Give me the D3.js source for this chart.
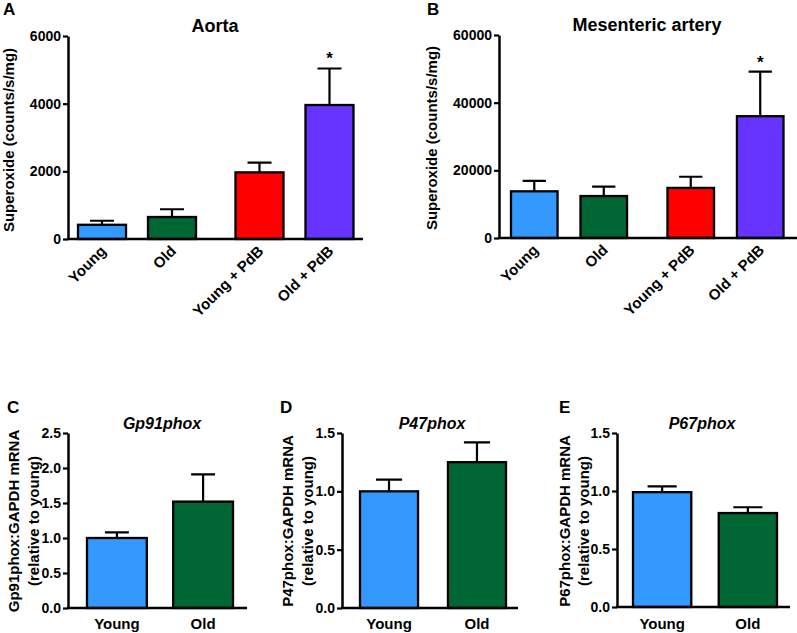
<!DOCTYPE html>
<html>
<head>
<meta charset="utf-8">
<script src="https://cdn.jsdelivr.net/npm/d3@7"></script>
<style>
  body { margin: 0; background: #fff; }
  svg text { font-family: "Liberation Sans", Arial, sans-serif; font-weight: bold; fill: #000; }
</style>
</head>
<body>
<div class="chart"></div>
<script>
// categories
var topCats = ["Young", "Old", "Young + PdB", "Old + PdB"];
var topPdB = [0, 0, 1, 1];          // 1 = PdB treated group
var topSig = [false, false, false, true];
var mrnaCats = ["Young", "Old"];

// superoxide, mean and SEM
var aortaMean = [420, 650, 1970, 3960];
var aortaSem = [120, 230, 290, 1080];
var mesMean = [13800, 12400, 14800, 36000];
var mesSem = [3100, 2800, 3300, 13200];

// mRNA relative to young
var gp91Mean = [1.0, 1.52];
var gp91Sem = [0.08, 0.39];
var p47Mean = [1.0, 1.25];
var p47Sem = [0.1, 0.17];
var p67Mean = [0.99, 0.81];
var p67Sem = [0.05, 0.05];

// tick labels
var aortaTicks = [0, 2000, 4000, 6000];
var mesTicks = [0, 20000, 40000, 60000];
var gp91Ticks = [0, 0.5, 1.0, 1.5, 2.0, 2.5];
var p4767Ticks = [0, 0.5, 1.0, 1.5];

var colors = ["#3399ff", "#006633", "#ff0000", "#6633ff"];

var svg = d3.select(".chart").append("svg")
    .attr("width", 797).attr("height", 633);

function drawPanel(p) {
  var g = svg.append("g");

  var y = d3.scaleLinear().domain([0, p.ticks[p.ticks.length - 1]]).range([p.y0, p.y1]);
  var x = d3.scaleBand().domain(p.cats).range([p.bx0, p.bx1]).paddingInner(p.pad);

  function bx(d, i) { return x(d) + (p.group ? p.group[i] * p.gap : 0); }

  // bars
  g.selectAll("rect.bar").data(p.cats).enter().append("rect")
      .attr("x", bx)
      .attr("y", function(d, i) { return y(p.mean[i]); })
      .attr("width", x.bandwidth())
      .attr("height", function(d, i) { return y(0) - y(p.mean[i]); })
      .attr("fill", function(d, i) { return colors[i]; })
      .attr("stroke", "#000").attr("stroke-width", 2.3);

  // error bars (upper only)
  var cap = x.bandwidth() * p.cap;
  g.selectAll("path.err").data(p.cats).enter().append("path")
      .attr("d", function(d, i) {
        var cx = bx(d, i) + x.bandwidth() / 2;
        var top = y(p.mean[i] + p.sem[i]);
        return "M" + cx + "," + y(p.mean[i]) + "V" + top +
               "M" + (cx - cap / 2) + "," + top + "H" + (cx + cap / 2);
      })
      .attr("stroke", "#000").attr("stroke-width", 2.2).attr("fill", "none");

  // asterisks
  if (p.sig) {
    g.selectAll("text.sig").data(p.cats).enter()
      .filter(function(d, i) { return p.sig[i]; })
      .append("text")
        .attr("x", function(d) { var i = p.cats.indexOf(d); return bx(d, i) + x.bandwidth() / 2; })
        .attr("y", function(d) { var i = p.cats.indexOf(d); return y(p.mean[i] + p.sem[i]) - 4; })
        .attr("text-anchor", "middle").style("font-size", "17px")
        .text("*");
  }

  // y axis
  var ya = g.append("g").attr("transform", "translate(" + p.ax + ",0)")
      .call(d3.axisLeft(y).tickValues(p.ticks).tickFormat(p.fmt).tickSize(5).tickSizeOuter(0).tickPadding(2));
  ya.select(".domain").attr("stroke-width", 2.5);
  ya.selectAll(".tick line").attr("stroke-width", 2.2);
  ya.selectAll(".tick text").style("font-size", p.tickSize + "px").attr("font-family", null);

  // x axis line
  g.append("line")
      .attr("x1", p.ax - 1).attr("x2", p.axEnd)
      .attr("y1", y(0)).attr("y2", y(0))
      .attr("stroke", "#000").attr("stroke-width", 2.7);

  // x labels
  g.selectAll("text.xl").data(p.cats).enter().append("text")
      .attr("transform", function(d, i) {
        var cx = bx(d, i) + x.bandwidth() / 2;
        return p.rotate
          ? "translate(" + (cx + 5) + "," + (y(0) + 13) + ") rotate(-45)"
          : "translate(" + cx + "," + p.xlY + ")";
      })
      .attr("text-anchor", p.rotate ? "end" : "middle")
      .style("font-size", p.xlSize + "px")
      .text(function(d) { return d; });

  // title
  g.append("text").attr("x", p.tx).attr("y", p.ty)
      .attr("text-anchor", "middle")
      .style("font-size", p.titleSize + "px")
      .style("font-style", p.italic ? "italic" : null)
      .text(p.title);

  // panel letter
  g.append("text").attr("x", p.lx).attr("y", p.ly)
      .style("font-size", "17px").text(p.letter);

  // y label lines
  p.ylab.forEach(function(t, k) {
    g.append("text")
        .attr("transform", "translate(" + p.ylx[k] + "," + p.yly + ") rotate(-90)")
        .attr("text-anchor", "middle").attr("dy", "0.35em")
        .style("font-size", p.ylSize + "px")
        .text(t);
  });
}

var fmtInt = d3.format("d"), fmt1 = d3.format(".1f");

drawPanel({ cats: topCats, group: topPdB, gap: 17.5, sig: topSig, mean: aortaMean, sem: aortaSem,
  ticks: aortaTicks, fmt: fmtInt, y0: 239, y1: 36, ax: 68, axEnd: 363, bx0: 78, bx1: 336, pad: 0.314, cap: 0.5,
  tickSize: 14, rotate: true, xlSize: 15, title: "Aorta", tx: 215, ty: 32, titleSize: 18,
  letter: "A", lx: 3, ly: 15, ylab: ["Superoxide (counts/s/mg)"], ylx: [9], yly: 140, ylSize: 15 });

drawPanel({ cats: topCats, group: topPdB, gap: 17.5, sig: topSig, mean: mesMean, sem: mesSem,
  ticks: mesTicks, fmt: fmtInt, y0: 238, y1: 35, ax: 499, axEnd: 797, bx0: 511, bx1: 766, pad: 0.33, cap: 0.5,
  tickSize: 14, rotate: true, xlSize: 15, title: "Mesenteric artery", tx: 647, ty: 31, titleSize: 18,
  letter: "B", lx: 427, ly: 15, ylab: ["Superoxide (counts/s/mg)"], ylx: [432], yly: 138, ylSize: 15 });

drawPanel({ cats: mrnaCats, mean: gp91Mean, sem: gp91Sem,
  ticks: gp91Ticks, fmt: fmt1, y0: 608, y1: 433, ax: 68, axEnd: 247, bx0: 87, bx1: 233, pad: 0.306, cap: 0.4,
  tickSize: 14, rotate: false, xlSize: 15, xlY: 629, title: "Gp91phox", italic: true, tx: 162, ty: 429, titleSize: 16,
  letter: "C", lx: 7, ly: 413, ylab: ["Gp91phox:GAPDH mRNA", "(relative to young)"], ylx: [14, 34], yly: 521, ylSize: 15 });

drawPanel({ cats: mrnaCats, mean: p47Mean, sem: p47Sem,
  ticks: p4767Ticks, fmt: fmt1, y0: 608, y1: 433, ax: 342, axEnd: 518, bx0: 360, bx1: 506, pad: 0.34, cap: 0.45,
  tickSize: 14, rotate: false, xlSize: 15, xlY: 629, title: "P47phox", italic: true, tx: 432, ty: 429, titleSize: 16,
  letter: "D", lx: 280, ly: 413, ylab: ["P47phox:GAPDH mRNA", "(relative to young)"], ylx: [288, 308], yly: 521, ylSize: 15 });

drawPanel({ cats: mrnaCats, mean: p67Mean, sem: p67Sem,
  ticks: p4767Ticks, fmt: fmt1, y0: 607, y1: 433, ax: 617, axEnd: 790, bx0: 633, bx1: 777, pad: 0.32, cap: 0.5,
  tickSize: 14, rotate: false, xlSize: 15, xlY: 629, title: "P67phox", italic: true, tx: 702, ty: 429, titleSize: 16,
  letter: "E", lx: 559, ly: 413, ylab: ["P67phox:GAPDH mRNA", "(relative to young)"], ylx: [565, 584], yly: 521, ylSize: 15 });
</script>
</body>
</html>
